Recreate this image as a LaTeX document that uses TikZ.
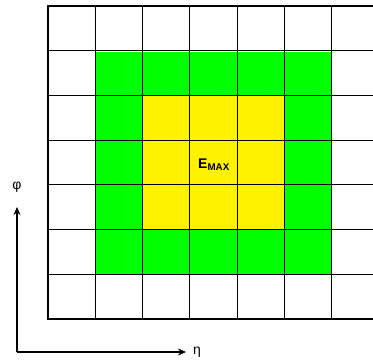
\documentclass[tikz,border=0pt]{standalone}
\usepackage{fontspec}
\setmainfont{Liberation Sans}
\usetikzlibrary{arrows.meta}
\tikzset{
  cell line/.style={line width=1pt, draw=black},
  frame line/.style={line width=2pt, draw=black},
  axis arrow/.style={-{Stealth[length=8pt,width=7pt]}, line width=1.8pt},
  axis label/.style={font=\fontsize{14}{16}\selectfont, inner sep=1pt},
}
\begin{document}
\begin{tikzpicture}[x=1pt,y=-1pt]
  \useasboundingbox (0,0) rectangle (373,361);
  \clip (0,0) rectangle (373,361);
  % tower cells
  \fill[green] (96,52) rectangle (332,274);
  \fill[yellow] (143,96.5) rectangle (285,230);
  % grid
  \foreach \i in {1,...,7}
    \draw[cell line] (48+\i*47.33,6) -- (48+\i*47.33,319);
  \foreach \j in {1,...,6}
    \draw[cell line] (48,6+\j*44.71) -- (380,6+\j*44.71);
  \draw[frame line] (380,6) -- (48,6) -- (48,319) -- (380,319);
  % energy maximum
  \node[font=\fontsize{14}{16}\selectfont\bfseries] (emax) at (214,165) {E\textsubscript{MAX}};
  % axes
  \coordinate (origin) at (17,352);
  \coordinate (phi end) at (17,207);
  \coordinate (eta end) at (186,352);
  \draw[axis arrow] (origin) -- (phi end);
  \draw[axis arrow] (origin) -- (eta end);
  \node[axis label] (phi) at (17,187) {φ};
  \node[axis label] (eta) at (197,352) {η};
\end{tikzpicture}
\end{document}
